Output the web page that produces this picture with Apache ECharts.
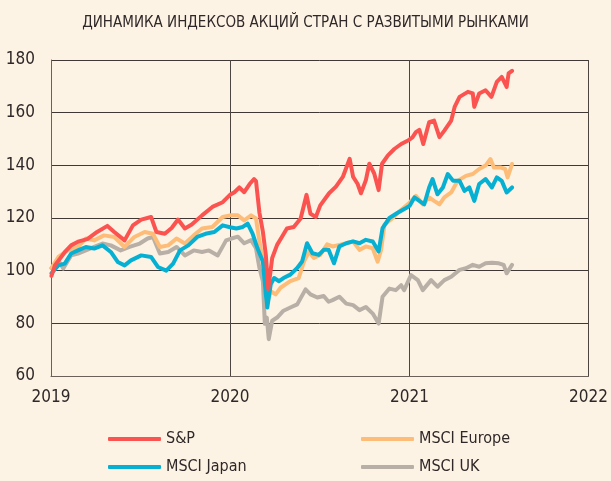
<!DOCTYPE html>
<html>
<head>
<meta charset="utf-8">
<script src="https://cdn.jsdelivr.net/npm/echarts@6/dist/echarts.min.js"></script>
<style>
  html, body { margin:0; padding:0; background:#fdf3e4; }
  #chart { width:611px; height:481px; }
</style>
</head>
<body>
<div id="chart"></div>
<script>
const yTicks = [60, 80, 100, 120, 140, 160, 180]
const seriesNames = ['S&P', 'MSCI Europe', 'MSCI Japan', 'MSCI UK']

const sp = [
  ['2019-01-02', 98], ['2019-01-09', 102], ['2019-01-29', 107], ['2019-02-11', 109.6], ['2019-02-25', 111],
  ['2019-03-16', 112], ['2019-04-05', 114.7], ['2019-04-26', 117], ['2019-05-10', 114.7], ['2019-05-31', 111.5],
  ['2019-06-17', 117.2], ['2019-07-04', 119.4], ['2019-07-24', 120.4], ['2019-08-04', 114.7], ['2019-08-21', 114],
  ['2019-09-04', 116.2], ['2019-09-17', 119.4], ['2019-10-01', 116], ['2019-10-15', 117.5], ['2019-11-05', 121],
  ['2019-11-26', 124.2], ['2019-12-17', 126], ['2020-01-01', 128.8], ['2020-01-10', 129.8], ['2020-01-20', 131.6],
  ['2020-01-30', 129.8], ['2020-02-10', 132.9], ['2020-02-19', 134.8], ['2020-02-23', 134], ['2020-03-01', 122],
  ['2020-03-08', 114.8], ['2020-03-14', 106], ['2020-03-19', 93], ['2020-03-27', 104.8], ['2020-04-06', 109.8],
  ['2020-04-16', 112.9], ['2020-04-26', 116], ['2020-05-10', 116.6], ['2020-05-24', 119.8], ['2020-06-05', 128.8],
  ['2020-06-13', 121.6], ['2020-06-24', 120.4], ['2020-07-03', 124.8], ['2020-07-21', 129.4], ['2020-08-04', 131.9],
  ['2020-08-18', 135.6], ['2020-09-01', 142.5], ['2020-09-08', 135.6], ['2020-09-17', 133], ['2020-09-24', 129.4],
  ['2020-10-04', 134.4], ['2020-10-11', 140.6], ['2020-10-21', 136.9], ['2020-10-30', 130.6], ['2020-11-06', 140.6],
  ['2020-11-18', 143.8], ['2020-12-01', 146.2], ['2020-12-15', 148.1], ['2020-12-29', 149.4], ['2021-01-07', 150.6],
  ['2021-01-14', 152.6], ['2021-01-21', 153.5], ['2021-01-29', 148.1], ['2021-02-10', 156.4], ['2021-02-20', 157],
  ['2021-03-03', 150.7], ['2021-03-13', 153.2], ['2021-03-27', 157], ['2021-04-03', 162.2], ['2021-04-13', 166],
  ['2021-04-30', 167.9], ['2021-05-10', 167.3], ['2021-05-13', 162.2], ['2021-05-23', 167.3], ['2021-06-05', 168.5],
  ['2021-06-17', 166], ['2021-06-28', 171.7], ['2021-07-08', 173.6], ['2021-07-18', 169.8], ['2021-07-22', 174.9],
  ['2021-07-29', 175.9]
]

const europe = [
  ['2019-01-02', 101], ['2019-01-16', 105.2], ['2019-02-04', 107.7], ['2019-02-25', 109], ['2019-03-13', 112.2],
  ['2019-03-30', 111.5], ['2019-04-19', 113.4], ['2019-05-10', 112.8], ['2019-05-31', 109], ['2019-06-20', 112.8],
  ['2019-07-11', 114.7], ['2019-07-28', 114], ['2019-08-11', 109], ['2019-08-28', 109.6], ['2019-09-14', 112.2],
  ['2019-10-01', 110.3], ['2019-10-19', 113.4], ['2019-11-05', 116], ['2019-11-26', 116.6], ['2019-12-17', 120.4],
  ['2020-01-01', 121], ['2020-01-17', 121], ['2020-01-30', 119.1], ['2020-02-13', 121], ['2020-02-23', 119.8],
  ['2020-03-01', 111], ['2020-03-10', 102.2], ['2020-03-16', 87.2], ['2020-03-24', 92.2], ['2020-04-03', 91],
  ['2020-04-13', 93.5], ['2020-05-03', 96], ['2020-05-20', 97.2], ['2020-05-31', 103.5], ['2020-06-10', 107.2],
  ['2020-06-20', 104.8], ['2020-07-03', 106], ['2020-07-17', 110], ['2020-07-28', 109.2], ['2020-08-11', 109.8],
  ['2020-08-25', 110.4], ['2020-09-08', 111.1], ['2020-09-21', 107.9], ['2020-10-04', 109.2], ['2020-10-18', 108.5],
  ['2020-10-28', 103.4], ['2020-11-04', 107.9], ['2020-11-11', 117.5], ['2020-11-28', 120], ['2020-12-11', 122.5],
  ['2021-01-01', 125.8], ['2021-01-14', 128.4], ['2021-01-28', 125.2], ['2021-02-10', 127.8], ['2021-02-20', 126.5],
  ['2021-03-03', 125.2], ['2021-03-13', 127.8], ['2021-03-27', 129.7], ['2021-04-09', 134.1], ['2021-04-26', 136],
  ['2021-05-10', 136.7], ['2021-05-23', 138.6], ['2021-06-05', 139.9], ['2021-06-15', 142.4], ['2021-06-22', 139.2],
  ['2021-07-05', 139.2], ['2021-07-15', 138.6], ['2021-07-20', 135.4], ['2021-07-29', 140.5]
]

const japan = [
  ['2019-01-02', 99], ['2019-01-16', 102], ['2019-01-29', 102.7], ['2019-02-11', 106.5], ['2019-02-25', 107.7],
  ['2019-03-13', 109], ['2019-03-30', 108.4], ['2019-04-16', 109.6], ['2019-05-03', 107.1], ['2019-05-17', 103.3],
  ['2019-05-31', 102], ['2019-06-13', 103.9], ['2019-07-04', 105.8], ['2019-07-24', 105.2], ['2019-08-07', 101.4],
  ['2019-08-24', 100], ['2019-09-07', 102.7], ['2019-09-21', 107.7], ['2019-10-08', 109.6], ['2019-10-26', 112.8],
  ['2019-11-12', 114], ['2019-11-30', 114.7], ['2019-12-17', 117.2], ['2020-01-01', 116.5], ['2020-01-14', 116],
  ['2020-01-27', 116.6], ['2020-02-06', 117.9], ['2020-02-16', 114.1], ['2020-02-26', 108.5], ['2020-03-08', 103.5],
  ['2020-03-14', 91], ['2020-03-17', 86], ['2020-03-24', 94.8], ['2020-03-31', 97.2], ['2020-04-10', 96],
  ['2020-04-19', 97.2], ['2020-05-03', 98.5], ['2020-05-17', 101], ['2020-05-27', 103.5], ['2020-06-06', 110.4],
  ['2020-06-17', 106.6], ['2020-06-30', 106], ['2020-07-10', 107.9], ['2020-07-20', 107.9], ['2020-07-31', 102.8],
  ['2020-08-11', 109.2], ['2020-08-25', 110.4], ['2020-09-08', 111.1], ['2020-09-21', 110.4], ['2020-10-04', 111.7],
  ['2020-10-18', 111.1], ['2020-10-30', 107.3], ['2020-11-07', 116.2], ['2020-11-21', 120], ['2020-12-07', 121.9],
  ['2020-12-25', 123.8], ['2021-01-01', 124.6], ['2021-01-11', 127.8], ['2021-01-21', 126.5], ['2021-01-31', 125.2],
  ['2021-02-10', 131.6], ['2021-02-17', 134.8], ['2021-02-27', 129], ['2021-03-10', 131.6], ['2021-03-20', 136.7],
  ['2021-03-31', 134.1], ['2021-04-13', 134.1], ['2021-04-23', 130.3], ['2021-05-03', 131.6], ['2021-05-13', 126.5],
  ['2021-05-23', 132.9], ['2021-06-05', 134.8], ['2021-06-18', 131.6], ['2021-06-28', 135.4], ['2021-07-08', 134.1],
  ['2021-07-18', 129.7], ['2021-07-29', 131.6]
]

const uk = [
  ['2019-01-02', 101], ['2019-01-16', 103.9], ['2019-01-26', 100.8], ['2019-02-11', 105.8], ['2019-02-25', 106.5],
  ['2019-03-13', 107.7], ['2019-03-30', 109], ['2019-04-16', 110.3], ['2019-05-03', 109.6], ['2019-05-23', 107.7],
  ['2019-06-10', 109], ['2019-07-01', 110.3], ['2019-07-17', 112.2], ['2019-07-28', 112.8], ['2019-08-11', 106.5],
  ['2019-08-28', 107.1], ['2019-09-14', 109], ['2019-10-01', 105.8], ['2019-10-19', 107.7], ['2019-11-05', 107.1],
  ['2019-11-19', 107.7], ['2019-12-07', 105.8], ['2019-12-24', 111.5], ['2020-01-04', 112.2], ['2020-01-17', 112.9],
  ['2020-01-30', 110.4], ['2020-02-13', 111.6], ['2020-02-23', 108.5], ['2020-03-01', 101], ['2020-03-08', 96],
  ['2020-03-12', 79.8], ['2020-03-16', 82.2], ['2020-03-20', 74], ['2020-03-27', 81], ['2020-04-06', 82.2],
  ['2020-04-19', 84.8], ['2020-05-03', 86], ['2020-05-17', 87.2], ['2020-06-03', 92.9], ['2020-06-13', 91],
  ['2020-06-27', 89.8], ['2020-07-10', 90.4], ['2020-07-20', 88.2], ['2020-07-28', 88.8], ['2020-08-11', 90.1],
  ['2020-08-25', 87.5], ['2020-09-08', 86.9], ['2020-09-21', 85], ['2020-10-04', 86.2], ['2020-10-18', 83.7],
  ['2020-10-30', 79.9], ['2020-11-07', 90.1], ['2020-11-21', 93.2], ['2020-12-04', 92.6], ['2020-12-15', 94.5],
  ['2020-12-21', 92.6], ['2021-01-04', 98.3], ['2021-01-18', 96.4], ['2021-01-28', 92.6], ['2021-02-14', 96.4],
  ['2021-02-27', 93.9], ['2021-03-13', 96.4], ['2021-03-27', 97.7], ['2021-04-13', 100.3], ['2021-04-26', 100.9],
  ['2021-05-10', 102.2], ['2021-05-23', 101.5], ['2021-06-05', 102.8], ['2021-06-18', 103], ['2021-07-02', 102.8],
  ['2021-07-12', 102.2], ['2021-07-18', 99], ['2021-07-29', 102.2]
]

const colors = { 'S&P': '#fb5450', 'MSCI Europe': '#fdbd78', 'MSCI Japan': '#06b0d3', 'MSCI UK': '#b8b0a6' }
const font = "'Liberation Sans Narrow', 'DejaVu Sans Condensed', sans-serif"
const textColor = '#2f2828'

const chart = echarts.init(document.getElementById('chart'), null, { renderer: 'canvas' })

function line(name, data){
  return {
    name,
    type: 'line',
    data,
    showSymbol: false,
    symbol: 'none',
    smooth: false,
    lineStyle: { width: 4, color: colors[name], cap: 'round', join: 'round' },
    itemStyle: { color: colors[name] },
  }
}

// two legend columns, each stacked vertically
const legendBase = {
  orient: 'vertical',
  top: 431,
  padding: 0,
  itemWidth: 53,
  itemHeight: 4,
  itemGap: 12,
  icon: 'roundRect',
  textStyle: { fontFamily: font, fontSize: 16, color: textColor },
}

chart.setOption({
  backgroundColor: '#fdf3e4',
  animation: false,
  title: {
    text: 'ДИНАМИКА ИНДЕКСОВ АКЦИЙ СТРАН С РАЗВИТЫМИ РЫНКАМИ',
    left: 'center',
    top: 11,
    textStyle: { fontFamily: font, fontSize: 15, fontWeight: 'normal', color: textColor },
  },
  legend: [
    Object.assign({}, legendBase, { left: 108, data: [seriesNames[0], seriesNames[2]] }),
    Object.assign({}, legendBase, { left: 361, data: [seriesNames[1], seriesNames[3]] }),
  ],
  grid: { left: 51, right: 22, top: 60, bottom: 105 },
  xAxis: {
    type: 'time',
    min: '2019-01-01',
    max: '2022-01-01',
    minInterval: 365 * 24 * 3600 * 1000,
    maxInterval: 366 * 24 * 3600 * 1000,
    axisLine: { show: true, lineStyle: { color: '#6b615b', width: 1 } },
    axisTick: { show: false },
    axisLabel: {
      formatter: '{yyyy}', showMinLabel: true, showMaxLabel: true,
      fontFamily: font, fontSize: 17, color: textColor, margin: 13,
    },
    splitLine: { show: true, lineStyle: { color: '#4d4540', width: 1 } },
  },
  yAxis: {
    type: 'value',
    min: yTicks[0],
    max: yTicks[yTicks.length - 1],
    interval: 20,
    axisLine: { show: true, lineStyle: { color: '#6b615b', width: 1 } },
    axisTick: { show: false },
    axisLabel: { fontFamily: font, fontSize: 17, color: textColor, margin: 16 },
    splitLine: { show: true, lineStyle: { color: '#3f3835', width: 1 } },
  },
  series: [
    line('MSCI UK', uk),
    line('MSCI Europe', europe),
    line('MSCI Japan', japan),
    line('S&P', sp),
  ],
})
</script>
</body>
</html>
